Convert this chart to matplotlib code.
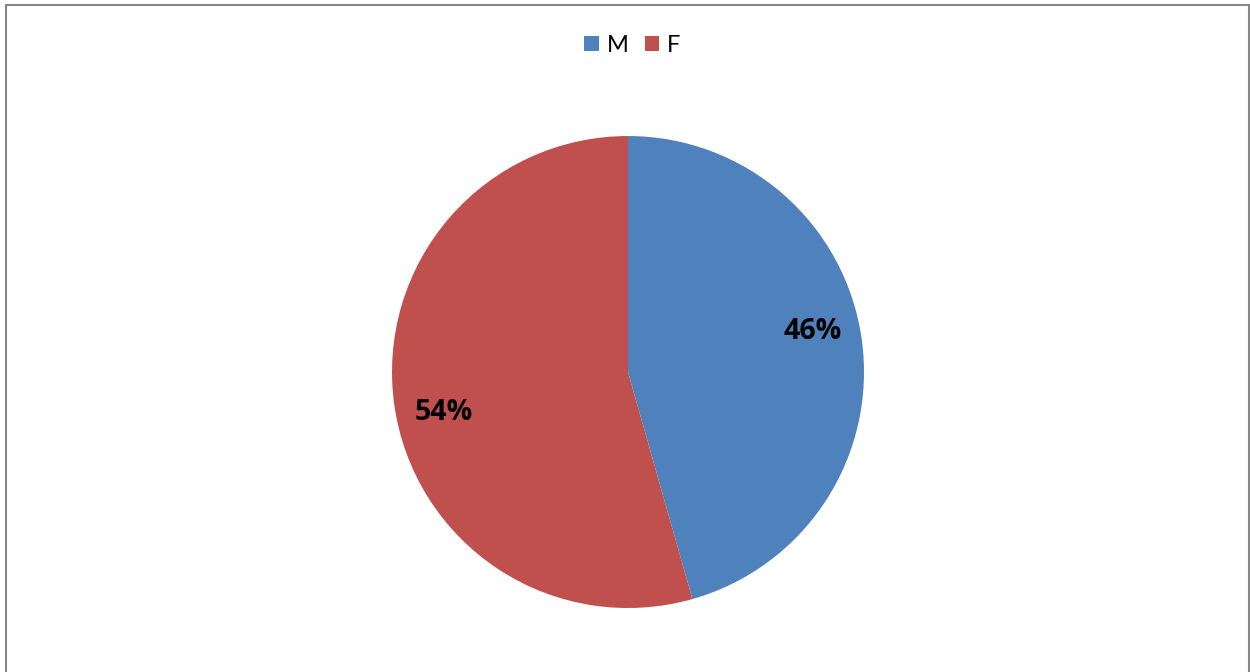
import matplotlib
matplotlib.use("Agg")
import matplotlib.pyplot as plt
import numpy as np
from matplotlib.patches import Rectangle, Patch

labels = ["M", "F"]
shares = [45.6, 54.4]
colors = ["#4F81BD", "#C0504D"]

plt.rcParams['font.family'] = ['Lato', 'DejaVu Sans']

fig = plt.figure(figsize=(12.5, 6.72), dpi=100)
# chart border (bottom edge runs off the image)
fig.patches.append(Rectangle((0.0048, -0.05), 0.9944, 1.0426, transform=fig.transFigure,
                             fill=False, edgecolor="#868686", linewidth=1.5))

ax = fig.add_axes([0.3136, 0.0952, 0.3776, 0.7024])
wedges, texts, autotexts = ax.pie(shares, colors=colors, startangle=90, counterclock=False,
                                  autopct="%.0f%%", pctdistance=0.8,
                                  textprops=dict(fontsize=20.5, fontweight="bold", color="black",
                                                 family=["Open Sans", "DejaVu Sans"]))
# nudge the labels a little counter-clockwise, like the original
for w, t in zip(wedges, autotexts):
    ang = np.deg2rad((w.theta1 + w.theta2) / 2 + 4.5)
    t.set_position((0.8 * np.cos(ang), 0.8 * np.sin(ang)))
ax.set_xlim(-1, 1)
ax.set_ylim(-1, 1)
ax.set_aspect("equal")

handles = [Patch(facecolor=c, edgecolor="none") for c in colors]
fig.legend(handles, labels, loc="center", bbox_to_anchor=(0.506, 0.933), ncol=2, frameon=False,
           fontsize=17, handlelength=0.6, handleheight=0.6, handletextpad=0.34, columnspacing=0.7)

fig.savefig("out.png", dpi=100)
